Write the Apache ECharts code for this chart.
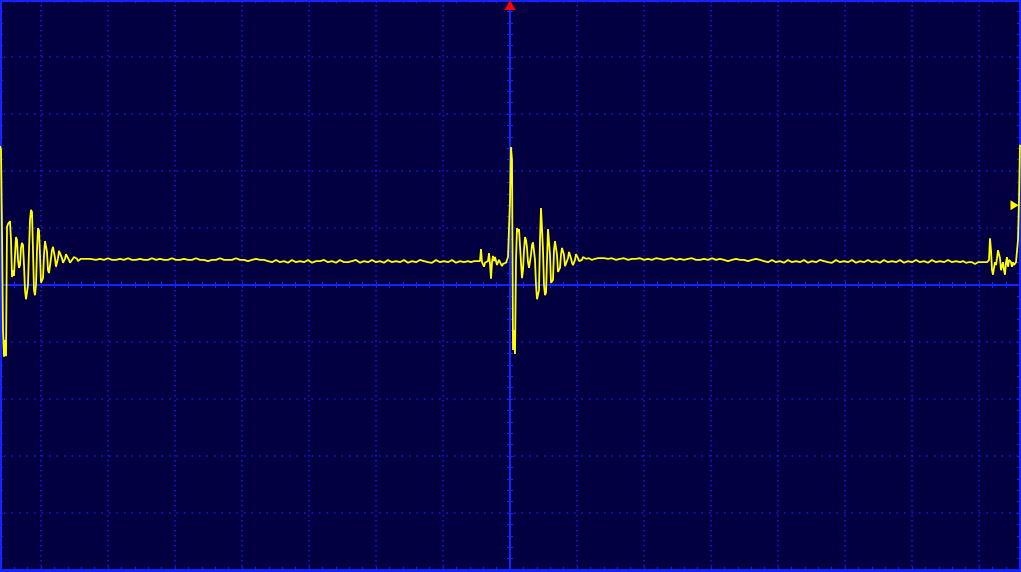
<!DOCTYPE html>
<html><head><meta charset="utf-8">
<style>html,body{margin:0;padding:0;background:#020040;overflow:hidden}#c{width:1021px;height:572px}</style>
<script src="https://cdn.jsdelivr.net/npm/echarts@6/dist/echarts.min.js"></script>
</head><body><div id="c"></div>
<script>
// Time base: samples, 67 samples per horizontal division; voltage in vertical divisions.
const SAMPLES_PER_DIV = 67;
const X_DIVS = [-8, 8];
const Y_DIVS = [-5, 5];
const TRIGGER_LEVEL = 1.40;
const TRIGGER_TIME = 0;

const leftBurstStart = -510;
const leftBurst = [
 2.44,2.37,0.96,-0.79,-1.26,-0.96,-1.25,1.02,1.07,1.04,
 1.12,0.79,0.14,0.26,0.16,0.53,0.84,0.79,0.44,0.30,
 0.35,0.65,0.74,0.70,0.35,-0.09,-0.25,-0.23,0.00,0.61,
 1.14,1.32,1.28,0.61,-0.09,-0.18,0.00,0.61,1.00,0.96,
 0.53,0.04,0.04,0.12,0.53,0.77,0.79,0.58,0.26,0.21,
 0.23,0.47,0.61,0.67,0.65,0.47,0.32,0.33,0.47,0.60,
 0.58,0.58,0.47,0.39,0.39,0.46,0.54,0.56,0.51,0.44,
 0.39,0.39,0.44,0.47,0.49,0.49,0.47,0.46,0.42,0.44,
 0.44,0.46,0.47,0.46,0.46,0.47,0.47,0.46,0.46,0.47,0.46
];

const baselineAStart = -418, baselineAStep = 4;
const baselineA = [
 0.46,0.44,0.46,0.44,0.47,0.44,0.44,0.46,0.44,0.47,
 0.44,0.44,0.46,0.44,0.44,0.47,0.44,0.46,0.44,0.44,
 0.47,0.44,0.44,0.46,0.44,0.44,0.47,0.44,0.44,0.42,
 0.44,0.44,0.47,0.44,0.44,0.44,0.47,0.44,0.44,0.42,
 0.44,0.46,0.44,0.44,
 0.42,0.40,0.44,0.40,0.42,0.39,0.44,0.40,0.42,0.40,
 0.44,0.39,0.42,0.42,0.44,0.40,0.42,0.39,0.44,0.40,
 0.40,0.42,0.44,0.39,0.42,0.40,0.44,0.40,0.42,0.39,
 0.44,0.40,0.42,0.40,0.44,0.39,0.42,0.40,0.44,0.42,
 0.40,0.39,0.44,0.40,0.42,0.40,0.44,0.39,0.42,0.40,0.42
];

const centerBurstStart = -40;
const centerBurst = [
 0.40,0.40,0.39,0.39,0.42,0.40,0.44,0.42,0.40,0.44,
 0.42,0.63,0.40,0.39,0.32,0.39,0.40,0.42,0.42,0.56,
 0.37,0.11,0.40,0.51,0.42,0.49,0.46,0.35,0.40,0.44,
 0.40,0.42,0.33,0.37,0.35,0.40,0.39,0.42,0.49,0.47,
 1.49,2.42,2.19,-1.14,-0.79,-1.21,0.44,1.00,0.93,0.98,
 0.96,0.40,0.12,0.26,0.61,0.84,0.79,0.65,0.40,0.30,
 0.33,0.53,0.70,0.75,0.72,0.44,0.00,-0.25,-0.23,-0.09,
 0.79,1.35,1.32,0.61,0.00,-0.18,-0.14,0.44,0.98,0.96,
 0.53,0.04,0.04,0.09,0.61,0.77,0.79,0.53,0.23,0.21,
 0.30,0.53,0.65,0.65,0.53,0.33,0.32,0.35,0.47,0.58,
 0.56,0.47,0.39,0.35,0.35,0.44,0.54,0.54,0.47,0.42,
 0.39,0.39,0.44,0.49,0.51,0.49,0.46,0.44,0.46,0.47,
 0.49,0.47,0.44,0.46,0.47,0.46,0.47,0.46,0.47,0.46,0.47
];

const baselineBStart = 94, baselineBStep = 4;
const baselineB = [
 0.47,0.46,0.47,0.44,0.46,0.47,0.44,0.46,0.46,0.47,
 0.44,0.46,0.44,0.47,0.46,0.44,0.46,0.47,0.44,0.46,
 0.44,0.46,0.47,0.44,0.44,0.46,0.44,0.47,0.44,0.46,
 0.44,0.42,0.44,0.46,0.44,0.44,0.42,0.44,0.46,0.44,
 0.42,0.40,0.44,0.40,0.42,0.39,0.44,0.40,0.42,0.40,
 0.44,0.39,0.42,0.40,0.44,0.42,0.40,0.39,0.44,0.40,
 0.42,0.40,0.44,0.39,0.42,0.40,0.44,0.40,0.42,0.39,
 0.44,0.40,0.42,0.40,0.44,0.39,0.42,0.40,0.44,0.40,
 0.42,0.39,0.44,0.40,0.42,0.40,0.44,0.40,0.42
];

const rightBurstStart = 450;
const rightBurst = [
 0.40,0.40,0.40,0.42,0.40,0.40,0.39,0.40,0.40,0.40,
 0.42,0.40,0.40,0.40,0.39,0.37,0.35,0.37,0.40,0.40,
 0.39,0.40,0.40,0.42,0.40,0.40,0.42,0.40,0.40,0.44,
 0.82,0.61,0.26,0.18,0.30,0.40,0.35,0.47,0.61,0.63,
 0.47,0.26,0.23,0.40,0.26,0.18,0.40,0.49,0.32,0.44,
 0.47,0.40,0.32,0.40,0.35,0.32,0.40,0.39,0.79,1.49,2.46
];

function seg(start, step, vals) {
  return vals.map((v, i) => [(start + i * step) / SAMPLES_PER_DIV, v]);
}
const trace = [].concat(
  seg(leftBurstStart, 1, leftBurst),
  seg(baselineAStart, baselineAStep, baselineA),
  seg(centerBurstStart, 1, centerBurst),
  seg(baselineBStart, baselineBStep, baselineB),
  seg(rightBurstStart, 1, rightBurst)
);
const traceEnd = trace[trace.length - 1][0];

const SOLID = '#1424ff';
const DOT = '#1818f0';
const tickStyle = { color: SOLID, width: 1 };

function centerX(pos) {
  return { gridIndex: 0, type: 'value', min: X_DIVS[0], max: X_DIVS[1], interval: 1, position: pos,
    axisLine: { show: true, onZero: true, onZeroAxisIndex: 0, lineStyle: { color: SOLID, width: 2 } },
    axisTick: { show: true, length: 3, lineStyle: tickStyle },
    minorTick: { show: true, splitNumber: 5, length: 3, lineStyle: tickStyle },
    axisLabel: { show: false },
    splitLine: { show: pos === 'bottom', lineStyle: { color: DOT, width: 1.5, type: [1.5, 3.5] } } };
}
function borderX(pos) {
  return { gridIndex: 0, type: 'value', min: X_DIVS[0], max: X_DIVS[1], interval: 1, position: pos,
    axisLine: { show: true, onZero: false, lineStyle: { color: SOLID, width: 3 } },
    axisTick: { show: true, inside: true, length: 3, lineStyle: tickStyle },
    minorTick: { show: true, splitNumber: 5, length: 3, lineStyle: tickStyle },
    axisLabel: { show: false }, splitLine: { show: false } };
}
function centerY(pos) {
  return { gridIndex: 0, type: 'value', min: Y_DIVS[0], max: Y_DIVS[1], interval: 1, position: pos,
    axisLine: { show: true, onZero: true, onZeroAxisIndex: 0, lineStyle: { color: SOLID, width: 2 } },
    axisTick: { show: true, length: 3, lineStyle: tickStyle },
    minorTick: { show: true, splitNumber: 5, length: 3, lineStyle: tickStyle },
    axisLabel: { show: false },
    splitLine: { show: pos === 'left', lineStyle: { color: DOT, width: 1.5, type: [1.5, 6] } } };
}
function borderY(pos) {
  return { gridIndex: 1, type: 'value', min: Y_DIVS[0], max: Y_DIVS[1], interval: 1, position: pos,
    axisLine: { show: true, onZero: false, lineStyle: { color: SOLID, width: 3 } },
    axisTick: { show: true, inside: true, length: 3, lineStyle: tickStyle },
    minorTick: { show: true, splitNumber: 5, length: 3, lineStyle: tickStyle },
    axisLabel: { show: false }, splitLine: { show: false } };
}

const chart = echarts.init(document.getElementById('c'), null, { renderer: 'canvas' });
chart.setOption({
  backgroundColor: '#020040',
  animation: false,
  grid: [
    { left: -26, top: 0, width: 1072, height: 570, containLabel: false, outerBoundsMode: 'none' },
    { left: 0, top: 0, width: 1020, height: 570, containLabel: false, outerBoundsMode: 'none' }
  ],
  xAxis: [
    centerX('bottom'), centerX('top'), borderX('top'), borderX('bottom'),
    { gridIndex: 1, type: 'value', min: 0, max: 1, show: false }
  ],
  yAxis: [
    centerY('left'), centerY('right'), borderY('left'), borderY('right')
  ],
  series: [{
    type: 'line', xAxisIndex: 0, yAxisIndex: 0, data: trace,
    showSymbol: false, symbol: 'none', silent: true,
    lineStyle: { color: '#ffff00', width: 1.8 },
    z: 5,
    markPoint: {
      silent: true, label: { show: false },
      data: [
        { coord: [TRIGGER_TIME, Y_DIVS[1]], symbol: 'triangle', symbolSize: [11, 10], symbolOffset: [0, 5],
          itemStyle: { color: '#ff0000' } },
        { coord: [traceEnd, TRIGGER_LEVEL], symbol: 'triangle', symbolSize: [10, 8], symbolRotate: -90,
          symbolOffset: [-5.5, 0], itemStyle: { color: '#ffff00' } }
      ]
    }
  }]
});
</script>
</body></html>
